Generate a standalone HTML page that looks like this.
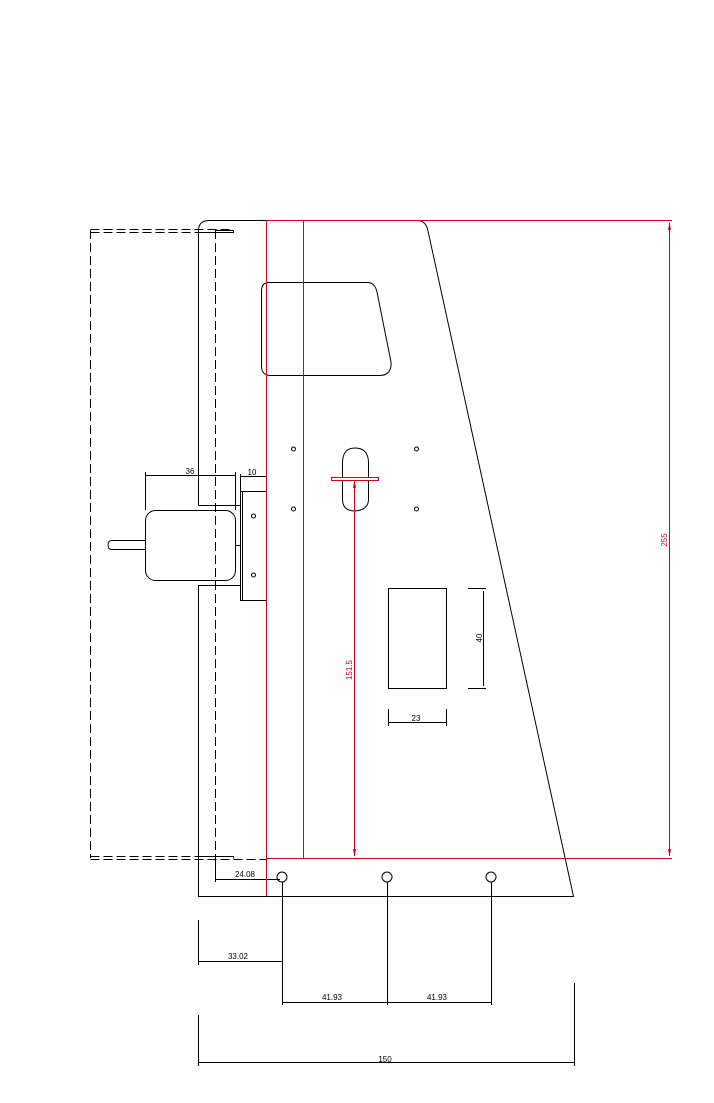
<!DOCTYPE html>
<html><head><style>html,body{margin:0;padding:0;background:#fff}svg{display:block}</style></head>
<body>
<svg width="714" height="1103" viewBox="0 0 714 1103" xmlns="http://www.w3.org/2000/svg" font-family="Liberation Sans, sans-serif" font-size="8">
<g fill="none" stroke="#000" stroke-width="1">
<!-- outline -->
<path d="M198.5 505.5 V230 Q199 220 210 220.5 H418 Q426 221 428 231 L573.5 896.5 H198.5 V585.5 H240.5"/>
<path d="M198.5 505.5 H240.5"/>
<!-- dashed -->
<g stroke-dasharray="9,4">
<path d="M90.5 230 V858"/>
<path d="M215.5 230 V858"/>
<path d="M90.5 229.5 H233"/>
<path d="M90.5 232.5 H200"/>
<path d="M90.5 856.5 H200"/>
<path d="M90.5 859.5 H266"/>
</g>
<path d="M198 232.5 H233.5 V230.5 H215"/>
<path d="M198 856.5 H233.5 V858.5"/>
<!-- window -->
<path d="M266 282.5 H368 Q375 283 377 292 L391 362 Q392 375 380 375.5 H270 Q262 375 261.5 367 V290 Q262 283 268 282.5"/>
<!-- keyhole -->
<path d="M342.5 477 V462 Q343 448 355 448 Q368 448 368.5 462 V477 M342.5 481 V500 Q343 511 355 511 Q368 510 368.5 500 V481"/>
<!-- holes -->
<circle cx="293.5" cy="449" r="2"/><circle cx="416.5" cy="449" r="2"/>
<circle cx="293.5" cy="509" r="2"/><circle cx="416.5" cy="509" r="2"/>
<!-- bracket -->
<rect x="240.5" y="491.5" width="26" height="109"/>
<path d="M242.5 491.5 V600.5"/>
<circle cx="253.5" cy="516" r="2"/><circle cx="253.5" cy="575" r="2"/>
<!-- motor -->
<rect x="145.5" y="510.5" width="90" height="70" rx="10"/>
<path d="M145.5 540.5 H112 Q108 540.5 108 545 Q108 549.5 112 549.5 H145.5"/>
<path d="M235.5 545.5 H240.5"/>
<!-- dim 36, 10 -->
<path d="M145.5 472 V510 M235.5 472 V510 M145.5 475.5 H235.5"/>
<path d="M240.5 474 V491 M240.5 476.5 H266"/>
<!-- rect -->
<rect x="388.5" y="588.5" width="58" height="100"/>
<path d="M468 588.5 H486 M468 688.5 H486 M483.5 591 V686"/>
<path d="M388.5 709 V726 M446.5 709 V726 M388.5 722.5 H446.5"/>
<!-- bottom holes -->
<circle cx="282" cy="877" r="5"/><circle cx="387" cy="877" r="5"/><circle cx="491" cy="877" r="5"/>
<!-- dims bottom -->
<path d="M215.5 858 V882 M215.5 879.5 H280"/>
<path d="M282.5 882 V1005 M387.5 882 V1005 M491.5 882 V1005"/>
<path d="M198.5 920 V965 M198.5 961.5 H282.5"/>
<path d="M282.5 1002.5 H491.5"/>
<path d="M198.5 1015 V1066 M574.5 983 V1066 M198.5 1062.5 H574.5"/>
</g>
<g fill="none" stroke="#d0021b" stroke-width="1">
<path d="M266 220.5 H672 M266.5 220 V896 M303.5 220 V858 M266 858.5 H672"/>
<path d="M669.5 223 V856"/>
<path d="M331.5 477.5 H378.5 V480.5 H331.5 Z"/>
<path d="M354.5 481 V856"/>
</g>
<g fill="#d0021b">
<path d="M669.5 222 L668 230 L671 230 Z"/><path d="M669.5 857 L668 849 L671 849 Z"/>
<path d="M354.5 480 L353 488 L356 488 Z"/><path d="M354.5 857 L353 849 L356 849 Z"/>
<text x="0" y="0" transform="translate(667 540) rotate(-90)" text-anchor="middle" font-size="8">255</text>
<text x="0" y="0" transform="translate(352 670) rotate(-90)" text-anchor="middle" font-size="8">151.5</text>
</g>
<g fill="#000" text-anchor="middle">
<text x="190" y="474">36</text>
<text x="252" y="475">10</text>
<text x="0" y="0" transform="translate(482 638) rotate(-90)">40</text>
<text x="416" y="721">23</text>
<text x="245" y="877">24.08</text>
<text x="238" y="959">33.02</text>
<text x="332" y="1000">41.93</text>
<text x="437" y="1000">41.93</text>
<text x="385" y="1062">150</text>
</g>
</svg>
</body></html>
